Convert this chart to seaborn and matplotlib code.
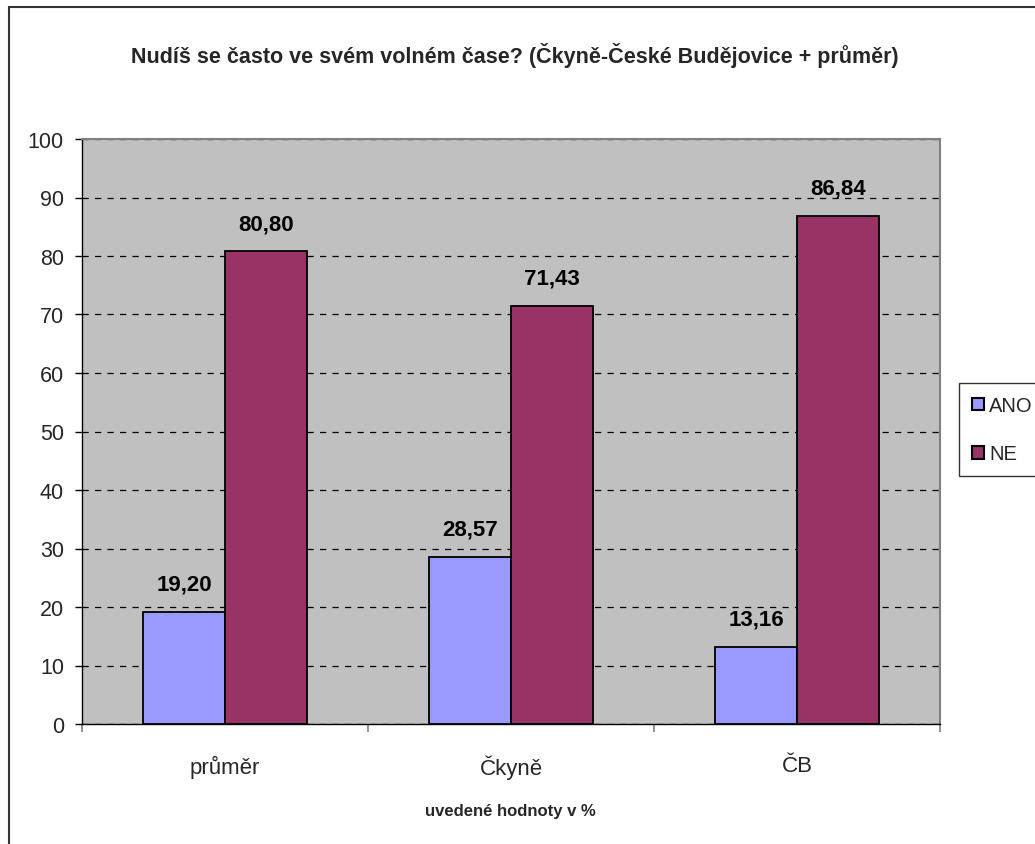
import pandas as pd
import seaborn as sns
import matplotlib.pyplot as plt
from matplotlib.patches import Rectangle

# data
categories = ['průměr', 'Čkyně', 'ČB']
series_names = ['ANO', 'NE']
ano_values = [19.20, 28.57, 13.16]
ne_values = [80.80, 71.43, 86.84]
y_ticks = [0, 10, 20, 30, 40, 50, 60, 70, 80, 90, 100]

TitleText = 'Nudíš se často ve svém volném čase? (Čkyně-České Budějovice + průměr)'
XlabelText = 'uvedené hodnoty v %'
colors = ['#9999FF', '#993366']

df = pd.DataFrame({
    'kategorie': categories * 2,
    'odpoved': [series_names[0]] * 3 + [series_names[1]] * 3,
    'hodnota': ano_values + ne_values,
})

sns.set_theme(style="ticks")
plt.rcParams['font.family'] = ['Liberation Sans', 'DejaVu Sans']

fig = plt.figure(figsize=(10.35, 8.45), dpi=100)
ax = fig.add_axes([82 / 1035, 1 - 725 / 845, (940 - 82) / 1035, (725 - 140) / 845])
ax.set_facecolor('#C0C0C0')

g = sns.barplot(data=df, x='kategorie', y='hodnota', hue='odpoved', order=categories,
                hue_order=series_names, palette=colors, width=0.573, gap=0,
                edgecolor='black', linewidth=1.3, saturation=1, ax=ax, zorder=3)

# grid and axes
ax.set_ylim(0, 100)
ax.set_xlim(-0.5, 2.5)
ax.set_yticks(y_ticks)
ax.yaxis.grid(True, color='black', linestyle=(0, (5, 5)), linewidth=0.9, zorder=1)
ax.set_axisbelow(True)
ax.tick_params(axis='y', labelsize=15.5, length=5, width=1, pad=8, color='black')
ax.set_xticks([0, 1, 2])
ax.set_xticklabels(categories)
ax.set_xticks([-0.5, 0.5, 1.5, 2.5], minor=True)
ax.tick_params(axis='x', which='major', labelsize=16, length=0, pad=22)
ax.tick_params(axis='x', which='minor', length=6, width=1.2, color='#808080')
ax.set_xlabel('')
ax.set_ylabel('')
for s in ['top', 'right']:
    ax.spines[s].set_color('#808080')
    ax.spines[s].set_linewidth(1.5)
for s in ['left', 'bottom']:
    ax.spines[s].set_color('black')
    ax.spines[s].set_linewidth(1.0)

# value labels above bars
for cont in ax.containers:
    for bar in cont:
        h = bar.get_height()
        ax.annotate(f'{h:.2f}'.replace('.', ','), xy=(bar.get_x() + bar.get_width() / 2, h),
                    xytext=(0, 16), textcoords='offset points', ha='center', va='baseline',
                    fontsize=16, fontweight='bold', color='black', annotation_clip=False)

# legend outside on the right
ax.get_legend().remove()
handles, labels = ax.get_legend_handles_labels()
leg = fig.legend(handles, labels, loc='upper left',
                 bbox_to_anchor=(959 / 1035, 1 - 384 / 845), bbox_transform=fig.transFigure,
                 fontsize=14.5, frameon=True, fancybox=False, shadow=False,
                 handlelength=0.6, handleheight=0.6, handletextpad=0.25,
                 labelspacing=1.45, borderpad=0.65, borderaxespad=0)
leg.get_frame().set_edgecolor('black')
leg.get_frame().set_linewidth(1.0)
for hnd in leg.legend_handles:
    hnd.set_edgecolor('black')
    hnd.set_linewidth(1.5)

# title and axis note
fig.text(515 / 1035, 1 - 55 / 845, TitleText, ha='center', va='center',
         fontsize=15.5, fontweight='bold')
fig.text(510 / 1035, 1 - 812 / 845, XlabelText, ha='center', va='center',
         fontsize=12, fontweight='bold')

# outer chart border
fig.patches.append(Rectangle((9 / 1035, -0.1), 1.2, 1 - 8 / 845 + 0.1, transform=fig.transFigure,
                             fill=False, edgecolor='#333333', linewidth=1.5))

fig.savefig('out.png', dpi=100)
